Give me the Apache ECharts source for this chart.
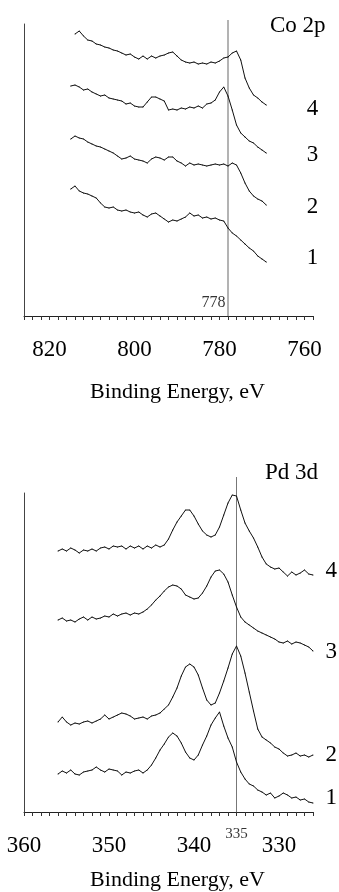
<!DOCTYPE html>
<html>
<head>
<meta charset="utf-8">
<script src="https://cdn.jsdelivr.net/npm/echarts@6/dist/echarts.min.js"></script>
<style>
html,body{margin:0;padding:0;background:#fff;}
#chart{width:339px;height:892px;}
</style>
</head>
<body>
<div id="chart"></div>
<script>
// ---------- Co 2p panel ----------
const coEnergy = [815,814,813,812,811,810,809,808,807,806,805,804,803,802,801,800,799,798,797,796,795,794,793,792,791,790,789,788,787,786,785,784,783,782,781,780,779,778,777,776,775,774,773,772,771,770,769];
const coCurve4 = [null,282,285,280,276,275,272,271,269,268,266,265,263,261,262,259,257,260,257,260,258,260,261,263,264,260,256,254,253,254,252,253,252,254,253,255,258,259,263,265,256,238,228,221,218,214,211];
const coCurve3 = [230,231,229,226,227,224,222,220,221,218,217,216,215,212,213,210,209,209,214,219,219,217,215,206,207,206,208,207,209,208,210,208,212,213,216,224,229,220,206,191,183,179,175,173,169,166,163];
const coCurve2 = [177,180,178,177,174,172,170,169,167,165,163,160,157,158,160,157,156,155,153,157,159,158,156,159,159,155,153,150,153,151,152,151,150,151,152,151,152,150,153,151,143,133,125,120,117,115,111];
const coCurve1 = [127,130,125,123,122,120,118,113,109,108,109,106,105,106,104,103,104,101,99,102,103,100,97,94,96,95,97,99,103,100,101,98,99,97,98,96,95,88,83,80,76,72,68,65,60,57,54];
const coTickLabels = [760,780,800,820];
const coRefEnergy = 778;

// ---------- Pd 3d panel ----------
const pdEnergy = [356,355.5,355,354.5,354,353.5,353,352.5,352,351.5,351,350.5,350,349.5,349,348.5,348,347.5,347,346.5,346,345.5,345,344.5,344,343.5,343,342.5,342,341.5,341,340.5,340,339.5,339,338.5,338,337.5,337,336.5,336,335.5,335,334.5,334,333.5,333,332.5,332,331.5,331,330.5,330,329.5,329,328.5,328,327.5,327,326.5,326];
const pdCurve4 = [261,263,261,264,262,259,262,261,263,261,264,265,263,266,265,266,263,266,264,266,263,266,264,267,265,267,273,282,290,296,302,302,296,288,281,277,275,277,285,297,309,317,316,302,289,281,274,265,255,248,245,243,244,240,236,240,237,239,242,238,237];
const pdCurve3 = [192,194,191,192,190,193,195,192,195,193,194,196,195,198,196,198,199,197,199,198,200,203,207,212,216,221,225,227,226,223,217,215,213,214,219,226,235,241,242,238,230,217,205,195,190,187,184,181,179,177,175,173,170,169,171,168,170,169,167,165,161];
const pdCurve2 = [90,95,90,87,89,88,90,91,89,91,93,97,93,95,97,99,98,96,93,94,95,93,96,97,99,103,107,115,124,136,145,148,145,137,124,112,107,109,119,131,144,158,166,156,139,120,101,83,75,72,69,65,63,59,56,57,59,56,57,55,57];
const pdCurve1 = [38,41,39,42,38,37,40,41,42,45,42,40,43,42,41,37,40,39,41,42,39,42,47,54,62,68,75,79,76,69,60,54,52,57,67,76,87,94,100,86,74,65,50,40,33,28,26,22,20,17,19,14,16,19,17,14,15,12,13,10,9];
const pdTickLabels = [330,340,350,360];
const pdRefEnergy = 335;

const FONT = "'Liberation Serif','DejaVu Serif',serif";

function pairs(xs, ys){ return xs.map((x,i)=>[x, ys[i]]); }

function curve(name, xs, ys, xi, yi, distance, dy){
  const last = ys.length - 1;
  return {
    type:'line', name:name, xAxisIndex:xi, yAxisIndex:yi,
    data: pairs(xs, ys),
    showSymbol:true, symbol:'circle', symbolSize:1,
    itemStyle:{color:'#111'},
    lineStyle:{color:'#111', width:1},
    label:{show:true, position:'right', distance:distance, offset:[0,dy],
      formatter:(p)=> p.dataIndex===last ? p.seriesName : '',
      fontFamily:FONT, fontSize:23, color:'#000'},
    silent:true, animation:false, clip:false
  };
}

function mainX(grid, min, max, interval, ticks, nameGap){
  return {
    gridIndex:grid, type:'value', inverse:true, min:min, max:max, interval:interval,
    axisLine:{onZero:false, lineStyle:{color:'#222', width:1}},
    axisTick:{show:true, length:4, lineStyle:{color:'#333', width:1}},
    splitLine:{show:false},
    axisLabel:{formatter:(v)=> ticks.includes(v) ? String(v) : '', fontFamily:FONT, fontSize:23, color:'#000', margin:22},
    name:'Binding Energy, eV', nameLocation:'middle', nameGap:nameGap,
    nameTextStyle:{fontFamily:FONT, fontSize:22, color:'#000', padding:[0,0,0,18]}
  };
}
function hiddenX(grid, min, max){
  return {gridIndex:grid, type:'value', inverse:true, min:min, max:max, show:false};
}
function mainY(grid, max){
  return {gridIndex:grid, type:'value', min:0, max:max,
    axisLine:{show:true, onZero:false, lineStyle:{color:'#444', width:1}},
    axisTick:{show:false}, axisLabel:{show:false}, splitLine:{show:false}};
}
function hiddenY(grid){
  return {gridIndex:grid, type:'value', min:0, max:1, show:false};
}

const option = {
  backgroundColor:'#fff',
  animation:false,
  title:[
    {text:'Co 2p', left:270, top:14, padding:0, textStyle:{fontFamily:FONT, fontSize:23, fontWeight:'normal', color:'#000'}},
    {text:'Pd 3d', left:265, top:461, padding:0, textStyle:{fontFamily:FONT, fontSize:23, fontWeight:'normal', color:'#000'}}
  ],
  grid:[
    {left:24, right:26, top:24, bottom:576},
    {left:24, right:26, top:20, bottom:576},
    {left:24, right:26, top:493, bottom:80},
    {left:24, right:26, top:477, bottom:80}
  ],
  xAxis:[
    mainX(0, 758, 826, 2, coTickLabels, 65),
    hiddenX(1, 758, 826),
    mainX(2, 326, 360, 1, pdTickLabels, 57),
    hiddenX(3, 326, 360)
  ],
  yAxis:[ mainY(0, 292), hiddenY(1), mainY(2, 319), hiddenY(3) ],
  series:[
    {type:'line', xAxisIndex:1, yAxisIndex:1, data:[[coRefEnergy,0],[coRefEnergy,1]], symbol:'none',
      lineStyle:{color:'#9a9a9a', width:1.5}, silent:true},
    {type:'scatter', xAxisIndex:1, yAxisIndex:1, data:[[coRefEnergy,0]], symbolSize:1, itemStyle:{color:'rgba(0,0,0,0)'}, clip:false,
      label:{show:true, position:'left', distance:2, offset:[0,-13], formatter:String(coRefEnergy), fontFamily:FONT, fontSize:16, color:'#000'}, silent:true},
    curve('4', coEnergy, coCurve4, 0, 0, 40, 4),
    curve('3', coEnergy, coCurve3, 0, 0, 40, 2),
    curve('2', coEnergy, coCurve2, 0, 0, 40, 2),
    curve('1', coEnergy, coCurve1, 0, 0, 40, -4),
    {type:'line', xAxisIndex:3, yAxisIndex:3, data:[[pdRefEnergy,0],[pdRefEnergy,1]], symbol:'none',
      lineStyle:{color:'#777', width:1}, silent:true},
    {type:'scatter', xAxisIndex:3, yAxisIndex:3, data:[[pdRefEnergy,0]], symbolSize:1, itemStyle:{color:'rgba(0,0,0,0)'}, clip:false,
      label:{show:true, position:'bottom', distance:14, formatter:String(pdRefEnergy), fontFamily:FONT, fontSize:15, color:'#000'}, silent:true},
    curve('4', pdEnergy, pdCurve4, 2, 2, 12, -4),
    curve('3', pdEnergy, pdCurve3, 2, 2, 12, 1),
    curve('2', pdEnergy, pdCurve2, 2, 2, 12, 0),
    curve('1', pdEnergy, pdCurve1, 2, 2, 12, -5)
  ]
};
const chart = echarts.init(document.getElementById('chart'), null, {renderer:'canvas'});
chart.setOption(option);
</script>
</body>
</html>
